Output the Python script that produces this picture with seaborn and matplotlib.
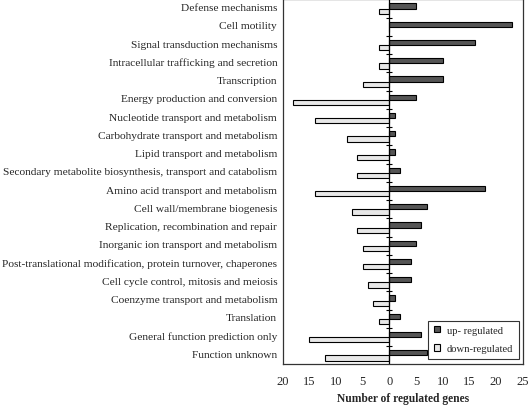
import matplotlib
matplotlib.use("Agg")
import matplotlib.pyplot as plt
from matplotlib.transforms import ScaledTranslation
import seaborn as sns
import pandas as pd

categories = [
    "Defense mechanisms",
    "Cell motility",
    "Signal transduction mechanisms",
    "Intracellular trafficking and secretion",
    "Transcription",
    "Energy production and conversion",
    "Nucleotide transport and metabolism",
    "Carbohydrate transport and metabolism",
    "Lipid transport and metabolism",
    "Secondary metabolite biosynthesis, transport and catabolism",
    "Amino acid transport and metabolism",
    "Cell wall/membrane biogenesis",
    "Replication, recombination and repair",
    "Inorganic ion transport and metabolism",
    "Post-translational modification, protein turnover, chaperones",
    "Cell cycle control, mitosis and meiosis",
    "Coenzyme transport and metabolism",
    "Translation",
    "General function prediction only",
    "Function unknown",
]
up_regulated = [5, 23, 16, 10, 10, 5, 1, 1, 1, 2, 18, 7, 6, 5, 4, 4, 1, 2, 6, 7]
down_regulated = [2, 0, 2, 2, 5, 18, 14, 8, 6, 6, 14, 7, 6, 5, 5, 4, 3, 2, 15, 12]
x_ticks = [-20, -15, -10, -5, 0, 5, 10, 15, 20, 25]

# 长表：下调基因画在负方向
df = pd.DataFrame({
    "category": categories * 2,
    "value": up_regulated + [-v for v in down_regulated],
    "group": ["up- regulated"] * len(categories) + ["down-regulated"] * len(categories),
})

sns.set_style("white")
plt.rcParams["font.family"] = ["Liberation Serif", "DejaVu Serif"]

fig = plt.figure(figsize=(5.28, 4.06), dpi=100)
ax = fig.add_axes([0.5354, 0.0998, 0.4545, 0.899])

sns.barplot(
    data=df, y="category", x="value", hue="group", order=categories,
    hue_order=["up- regulated", "down-regulated"],
    palette=["#555555", "#e8e8e8"], orient="h", width=0.58,
    edgecolor="black", linewidth=0.8, ax=ax,
)

# 零轴及分类分隔刻度
n = len(categories)
ax.axvline(0, color="black", linewidth=0.9, zorder=3)
ax.plot([0] * (n - 1), [i + 0.5 for i in range(n - 1)], marker="_",
        linestyle="none", color="black", markersize=5, markeredgewidth=0.8, zorder=3)

ax.set_xlim(-20, 25)
ax.set_ylim(n - 0.5, -0.5)
ax.set_xticks(x_ticks)
ax.set_xticklabels([str(abs(t)) for t in x_ticks], fontsize=9)
ax.tick_params(axis="x", direction="in", length=3, width=0.6, pad=7.5)
ax.tick_params(axis="y", length=0, pad=4, labelsize=8.2)
offset = ScaledTranslation(0, 1.5 / 72, fig.dpi_scale_trans)
for lab in ax.get_yticklabels():
    lab.set_transform(lab.get_transform() + offset)
ax.set_ylabel("")
ax.set_xlabel("Number of regulated genes", fontsize=8.3, fontweight="bold", labelpad=4)

for s in ax.spines.values():
    s.set_visible(True)
    s.set_color("#333333")
    s.set_linewidth(0.9)

leg = ax.legend(loc="lower right", fontsize=7.6, frameon=True, fancybox=False,
                edgecolor="black", handlelength=0.55, handleheight=0.55,
                handletextpad=0.7, labelspacing=0.9, borderpad=0.5,
                borderaxespad=0, bbox_to_anchor=(0.983, 0.016))
leg.get_frame().set_linewidth(0.8)

fig.savefig("out.png", dpi=100)
plt.close(fig)
